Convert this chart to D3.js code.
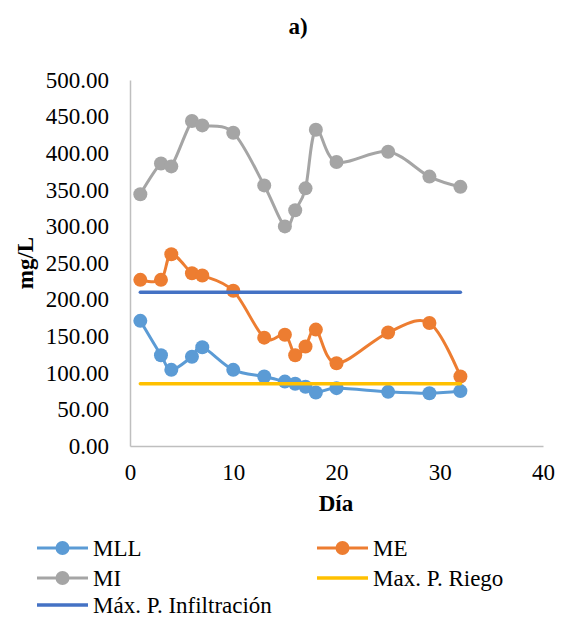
<!DOCTYPE html>
<html>
<head>
<meta charset="utf-8">
<script src="https://cdn.jsdelivr.net/npm/d3@7"></script>
</head>
<body style="margin:0;background:#fff">
<div id="chart"></div>
<script>
// data
var dias = [1, 3, 4, 6, 7, 10, 13, 15, 16, 17, 18, 20, 25, 29, 32];
var mll  = [171, 124, 104, 122, 135, 104, 95, 88, 85, 81, 73, 79, 74, 72, 75];
var me   = [227, 227, 262, 236, 233, 212, 148, 152, 124, 136, 159, 113, 155, 168, 95];
var mi   = [344, 386, 382, 444, 438, 428, 356, 300, 322, 352, 432, 388, 402, 368, 354];
var limiteDias = [1, 32];
var maxRiego = [85, 85];
var maxInfiltracion = [210, 210];
var yTicks = [0, 50, 100, 150, 200, 250, 300, 350, 400, 450, 500];
var xTicks = [0, 10, 20, 30, 40];

const W = 564, H = 617;
const FONT = "'Liberation Serif', 'Times New Roman', serif";
const FS = 23;

var series = [
  {name: "MLL", x: dias, y: mll, color: "#5B9BD5", marker: true, width: 3},
  {name: "ME", x: dias, y: me, color: "#ED7D31", marker: true, width: 3},
  {name: "MI", x: dias, y: mi, color: "#A5A5A5", marker: true, width: 3},
  {name: "Max. P. Riego", x: limiteDias, y: maxRiego, color: "#FFC000", marker: false, width: 3.5},
  {name: "Máx. P. Infiltración", x: limiteDias, y: maxInfiltracion, color: "#4472C4", marker: false, width: 3.5}
];

var svg = d3.select("#chart").append("svg")
    .attr("width", W)
    .attr("height", H)
    .attr("font-family", FONT);

var x = d3.scaleLinear().domain([0, 40]).range([130, 543]);
var y = d3.scaleLinear().domain([0, 500]).range([446, 80]);

function label(sel, bold) {
  return sel.attr("font-family", FONT)
    .attr("font-size", FS)
    .attr("font-weight", bold ? "bold" : null)
    .attr("fill", "#000");
}

// title
label(svg.append("text"), true)
    .attr("x", 298).attr("y", 34)
    .attr("text-anchor", "middle")
    .text("a)");

// axes
var yAxis = svg.append("g")
    .attr("transform", "translate(" + x(0) + ",0)")
    .call(d3.axisLeft(y).tickValues(yTicks).tickFormat(d3.format(".2f")).tickSize(0).tickPadding(21));
var xAxis = svg.append("g")
    .attr("transform", "translate(0," + y(0) + ")")
    .call(d3.axisBottom(x).tickValues(xTicks).tickSize(0).tickPadding(18));

[xAxis, yAxis].forEach(function(a) {
  a.attr("font-family", FONT).attr("font-size", FS);
  a.select(".domain").attr("stroke", "#BFBFBF").attr("stroke-width", 1.5);
  label(a.selectAll("text"), false);
});

// axis titles
label(svg.append("text"), true)
    .attr("transform", "translate(33,263) rotate(-90)")
    .attr("text-anchor", "middle")
    .text("mg/L");
label(svg.append("text"), true)
    .attr("x", 336).attr("y", 511)
    .attr("text-anchor", "middle")
    .text("Día");

// series
var line = d3.line()
    .x(function(d) { return x(d[0]); })
    .y(function(d) { return y(d[1]); })
    .curve(d3.curveCardinal.tension(0));

series.forEach(function(s) {
  var pts = s.x.map(function(v, i) { return [v, s.y[i]]; });
  var g = svg.append("g");
  g.append("path")
    .datum(pts)
    .attr("d", line)
    .attr("fill", "none")
    .attr("stroke", s.color)
    .attr("stroke-width", s.width)
    .attr("stroke-linecap", "round");
  if (s.marker) {
    g.selectAll("circle")
      .data(pts)
      .enter()
      .append("circle")
      .attr("cx", function(d) { return x(d[0]); })
      .attr("cy", function(d) { return y(d[1]); })
      .attr("r", 7)
      .attr("fill", s.color);
  }
});

// legend
var legendPos = [
  {x: 37, y: 548}, {x: 317, y: 548},
  {x: 37, y: 578}, {x: 317, y: 578},
  {x: 37, y: 605}
];
series.forEach(function(s, i) {
  var p = legendPos[i];
  var lg = svg.append("g").attr("transform", "translate(" + p.x + "," + p.y + ")");
  lg.append("line")
    .attr("x1", 0).attr("x2", 51)
    .attr("y1", 0).attr("y2", 0)
    .attr("stroke", s.color)
    .attr("stroke-width", s.width);
  if (s.marker) {
    lg.append("circle").attr("cx", 25.5).attr("cy", 0).attr("r", 7).attr("fill", s.color);
  }
  label(lg.append("text"), false)
    .attr("x", 56).attr("y", 0)
    .attr("dy", "0.35em")
    .text(s.name);
});
</script>
</body>
</html>
